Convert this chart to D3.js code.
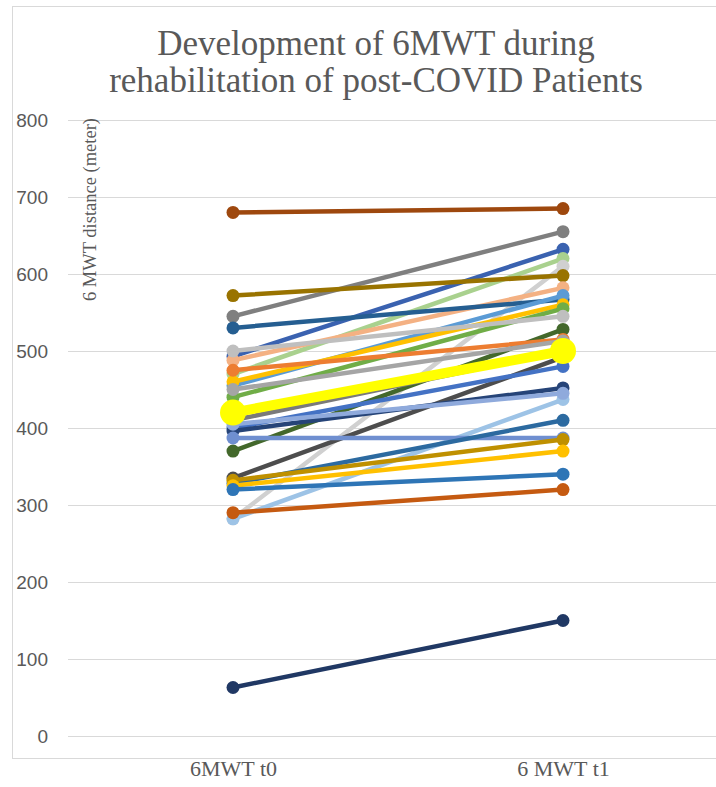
<!DOCTYPE html>
<html><head><meta charset="utf-8">
<script src="https://cdn.jsdelivr.net/npm/d3@7"></script>
<style>body{margin:0;background:#fff}svg{display:block}</style>
</head><body>
<svg id="chart" width="716" height="787"></svg>
<script>
const categories = ["6MWT t0", "6 MWT t1"];
const yTicks = [0, 100, 200, 300, 400, 500, 600, 700, 800];
const t0Values = [680, 545, 493, 470, 282, 572, 488, 530, 455, 460, 440, 500, 370, 475, 450, 335, 410, 400, 396, 282, 405, 387, 328, 332, 325, 320, 290, 63, 420];
const t1Values = [685, 655, 632, 620, 610, 598, 582, 567, 572, 560, 555, 545, 528, 515, 513, 492, 500, 480, 452, 437, 445, 387, 410, 385, 370, 340, 320, 150, 500];
const seriesColors = ["#9E480E", "#7F7F7F", "#3A62B0", "#A9D18E", "#D0D0D0", "#997300", "#F4B183", "#255E91", "#5B9BD5", "#FFC000", "#70AD47", "#BFBFBF", "#43682B", "#ED7D31", "#A5A5A5", "#4D4D4D", "#7A7A7A", "#4472C4", "#264478", "#9DC3E6", "#8FAADC", "#6F8FD0", "#2C6AA0", "#BF9000", "#FFC000", "#2E75B6", "#C55A11", "#203864", "#FFFF00"];
const highlight = [false,false,false,false,false,false,false,false,false,false,false,false,false,false,false,false,false,false,false,false,false,false,false,false,false,false,false,false,true];

const svg = d3.select("#chart");

svg.append("rect").attr("x", 12.5).attr("y", 6.5).attr("width", 760).attr("height", 752)
  .attr("fill", "#fff").attr("stroke", "#d9d9d9").attr("stroke-width", 1);

const x = d3.scalePoint().domain(categories).range([233, 563]);
const y = d3.scaleLinear().domain([0, 800]).range([736, 120]);
const plotLeft = 68, plotRight = 728;

// gridlines
svg.append("g").selectAll("line").data(yTicks).join("line")
  .attr("x1", plotLeft).attr("x2", plotRight)
  .attr("y1", d => Math.round(y(d)) + 0.5).attr("y2", d => Math.round(y(d)) + 0.5)
  .attr("stroke", "#d9d9d9").attr("stroke-width", 1);

// y tick labels
const yAxis = d3.axisLeft(y).tickValues(yTicks).tickSize(0).tickPadding(0);
const gy = svg.append("g").attr("transform", "translate(48,0)").call(yAxis);
gy.select(".domain").remove();
gy.selectAll("text").attr("font-family", "Liberation Sans, Arial, sans-serif")
  .attr("font-size", 19).attr("fill", "#595959");

// x labels
const xAxis = d3.axisBottom(x).tickSize(0).tickPadding(0);
const gx = svg.append("g").attr("transform", "translate(0,760)").call(xAxis);
gx.select(".domain").remove();
gx.selectAll("text").attr("font-family", "Liberation Serif, Times New Roman, serif")
  .attr("font-size", 22).attr("fill", "#595959").attr("dy", "0.71em");

// series
const series = t0Values.map((v, i) => ({v0: v, v1: t1Values[i], color: seriesColors[i], hi: highlight[i]}));
const g = svg.append("g");
series.forEach(s => {
  const pts = [[x(categories[0]), y(s.v0)], [x(categories[1]), y(s.v1)]];
  g.append("path").attr("d", d3.line()(pts)).attr("fill", "none")
    .attr("stroke", s.color).attr("stroke-width", s.hi ? 10 : 4.5).attr("stroke-linecap", "round");
  pts.forEach(p => g.append("circle").attr("cx", p[0]).attr("cy", p[1])
    .attr("r", s.hi ? 13 : 6.5).attr("fill", s.color));
});

// title
const title = svg.append("text").attr("text-anchor", "middle")
  .attr("font-family", "Liberation Serif, Times New Roman, serif").attr("font-size", 35).attr("fill", "#595959");
title.append("tspan").attr("x", 376).attr("y", 55).text("Development of 6MWT during");
title.append("tspan").attr("x", 376).attr("y", 92).text("rehabilitation of post-COVID Patients");

// y axis title
svg.append("text").attr("transform", "translate(96,118) rotate(-90)")
  .attr("text-anchor", "end").attr("font-family", "Liberation Serif, Times New Roman, serif")
  .attr("font-size", 18.5).attr("fill", "#595959").text("6 MWT distance (meter)");
</script>
</body></html>
